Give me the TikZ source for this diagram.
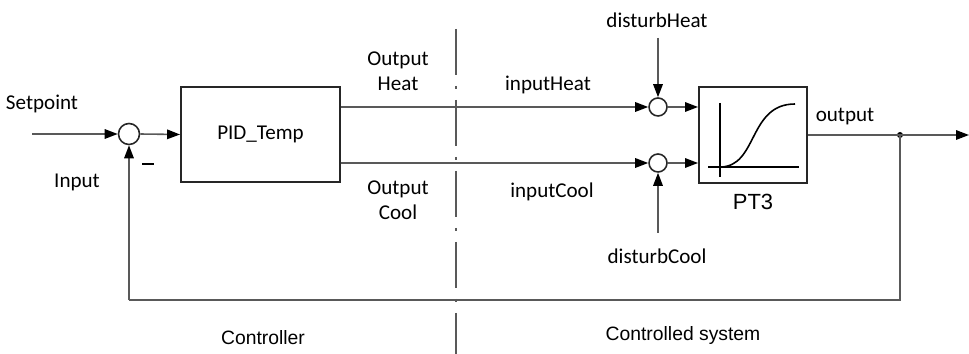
\documentclass[tikz,border=0pt]{standalone}
\usepackage{fontspec}
\setmainfont{Carlito}
\newfontfamily\arialfont{Liberation Sans}
\usepackage{xcolor}
\usepackage{tikz}
\usetikzlibrary{arrows.meta, positioning, calc}

\begin{document}
\begin{tikzpicture}[
    x=0.02cm, y=-0.02cm,
    block/.style={draw=black!85, line width=1.1pt, fill=white, inner sep=0pt},
    sumpt/.style={draw=black!85, circle, line width=0.9pt, fill=white, inner sep=0pt, minimum size=#1},
    sumpt/.default=0.36cm,
    lbl/.style={font=\fontsize{12}{14.5}\selectfont, align=center, inner sep=1pt},
    sysl/.style={font=\arialfont\fontsize{11}{13}\selectfont, inner sep=1pt},
    arr/.style={-{Triangle[length=2.6mm, width=1.9mm, color=black]}, line width=0.9pt, draw=black!65},
    wire/.style={line width=0.9pt, draw=black!65},
]
\useasboundingbox (0,0) rectangle (969,354);

% Controller
\node[lbl] (sp) at (42,104) {Setpoint};
\coordinate (spin) at (32,134);
\node[sumpt=0.42cm] (s1) at (129,134) {};
\node[block, minimum width=3.18cm, minimum height=1.9cm, font=\fontsize{12}{14.5}\selectfont] (pid) at (260.5,134.5) {PID\_Temp};
\node[lbl] (inp) at (77,182) {Input};
\node[lbl] (minus) at (148,167) {\rule[0.25em]{0.55em}{0.09em}};
\node[lbl] (oh) at (398,71) {Output\\Heat};
\node[lbl] (oc) at (398,200) {Output\\Cool};
\node[sysl] (ctrl) at (263,338) {Controller};

% Controlled system
\node[sumpt] (sh) at (658,107) {};
\node[sumpt] (sc) at (658,163) {};
\node[block, minimum width=2.16cm, minimum height=1.92cm] (pt) at (753,135) {};
\node[sysl, font=\arialfont\fontsize{12.5}{15}\selectfont] (ptl) at (753,202) {PT3};
\node[lbl] (ih) at (548,85) {inputHeat};
\node[lbl] (ic) at (552,192) {inputCool};
\node[lbl] (dh) at (657,20) {disturbHeat};
\node[lbl] (dc) at (657,256) {disturbCool};
\coordinate (dhs) at (658,38);
\coordinate (dcs) at (658,233);
\node[lbl] (outl) at (845,117) {output};
\coordinate (outend) at (969,135);
\node[circle, fill=black, inner sep=0pt, minimum size=0.12cm] (br) at (900,135) {};
\coordinate (fbr) at (900,300);
\coordinate (fbl) at (129,300);
\node[sysl] (csys) at (683,336) {Controlled system};

% step response inside PT3
\draw[line width=0.8pt] (720,103) -- (720,177);
\draw[line width=0.8pt] (708,167) -- (799,167);
\draw[line width=0.9pt] (720,167) .. controls (758,167) and (748,104) .. (795,104);

% separation line
\draw[black!65, line width=0.9pt, dash pattern=on 0.92cm off 0.22cm on 0.06cm off 0.22cm] (456,29) -- (456,354);

% Connections
\draw[arr] (spin) -- (s1.west);
\draw[arr] (s1.east) -- (pid.west);
\draw[arr] ($(pid.east)+(0,-27.5)$) -- (sh.west);
\draw[arr] ($(pid.east)+(0,28.5)$) -- (sc.west);
\draw[arr] (sh.east) -- (sh.east -| pt.west);
\draw[arr] (sc.east) -- (sc.east -| pt.west);
\draw[arr] (dhs) -- (sh.north);
\draw[arr] (dcs) -- (sc.south);
\draw[arr] (pt.east) -- (outend);
\draw[wire] (br.center) -- (fbr) -- (fbl);
\draw[arr] (fbl) -- (s1.south);
\end{tikzpicture}
\end{document}
